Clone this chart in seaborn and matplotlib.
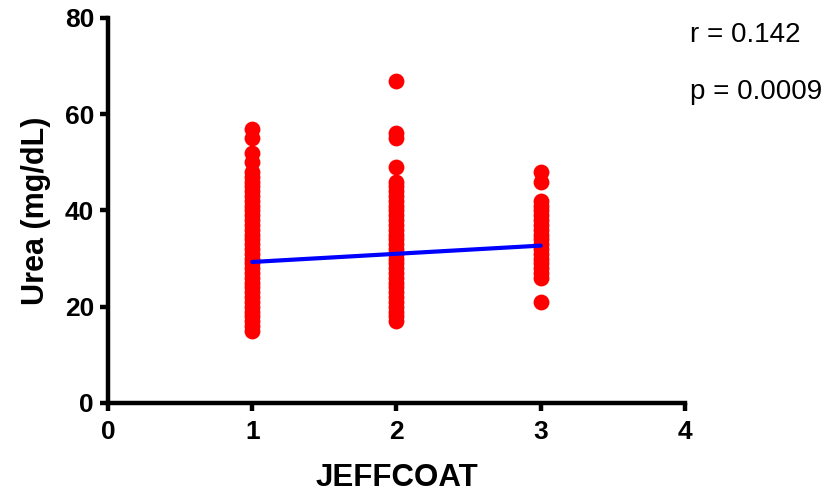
import numpy as np
import pandas as pd
import matplotlib
matplotlib.use('Agg')
import matplotlib.pyplot as plt
import seaborn as sns

# valori (Urea mg/dL per gruppo JEFFCOAT)
jeff_1_urea = [15, 16, 17, 18, 19, 20, 21, 22, 23, 24, 25, 26, 27, 28, 29, 30,
               31, 32, 33, 34, 35, 36, 37, 38, 39, 40, 41, 42, 43, 44, 45, 46,
               47, 48, 50, 52, 55, 57]
jeff_2_urea = [17, 18, 19, 20, 21, 22, 23, 24, 25, 26, 27, 28, 29, 30, 31, 32,
               33, 34, 35, 36, 37, 38, 39, 40, 41, 42, 43, 44, 45, 46, 49, 55,
               56, 67]
jeff_3_urea = [21, 26, 27, 28, 29, 30, 31, 32, 33, 34, 35, 36, 37, 38, 39, 40,
               41, 42, 46, 48]

# retta di regressione (estremi)
fit_x = [1, 3]
fit_y = [29.3, 32.7]

r_text = "r = 0.142"
p_text = "p = 0.0009"

df = pd.DataFrame({
    'JEFFCOAT': [1] * len(jeff_1_urea) + [2] * len(jeff_2_urea) + [3] * len(jeff_3_urea),
    'Urea': jeff_1_urea + jeff_2_urea + jeff_3_urea,
})
fit = pd.DataFrame({'JEFFCOAT': fit_x, 'Urea': fit_y})

sns.set_style('ticks')
plt.rcParams['font.family'] = ['Liberation Sans', 'DejaVu Sans']
plt.rcParams['text.color'] = 'black'
plt.rcParams['axes.labelcolor'] = 'black'
plt.rcParams['xtick.color'] = 'black'
plt.rcParams['ytick.color'] = 'black'

fig = plt.figure(figsize=(8.34, 4.98), dpi=100)
ax = fig.add_axes([0.1295, 0.1908, 0.6918, 0.7731])

sns.scatterplot(data=df, x='JEFFCOAT', y='Urea', ax=ax, color='#ff0000',
                s=130, linewidth=0, alpha=1, zorder=2, clip_on=False)
sns.lineplot(data=fit, x='JEFFCOAT', y='Urea', ax=ax, color='#0000ff',
             linewidth=3, zorder=3)

ax.set_xlim(0, 4)
ax.set_ylim(0, 80)
ax.set_xticks([0, 1, 2, 3, 4])
ax.set_yticks([0, 20, 40, 60, 80])
sns.despine(ax=ax)
for side in ['left', 'bottom']:
    ax.spines[side].set_linewidth(3.2)
    ax.spines[side].set_color('black')
    ax.spines[side].set_capstyle('projecting')
ax.tick_params(axis='both', direction='out', length=6, width=3.2,
               labelsize=19, pad=4)
ax.tick_params(axis='x', pad=6)
for lab in ax.get_xticklabels() + ax.get_yticklabels():
    lab.set_fontweight('bold')

ax.set_xlabel('JEFFCOAT', fontsize=22.5, fontweight='bold', labelpad=14)
ax.set_ylabel('Urea (mg/dL)', fontsize=22, fontweight='bold', labelpad=10)

fig.text(690 / 834, 1 - 35 / 498, r_text, fontsize=20, va='center', ha='left')
fig.text(690 / 834, 1 - 92 / 498, p_text, fontsize=20, va='center', ha='left')

fig.savefig('out.png', dpi=100)
